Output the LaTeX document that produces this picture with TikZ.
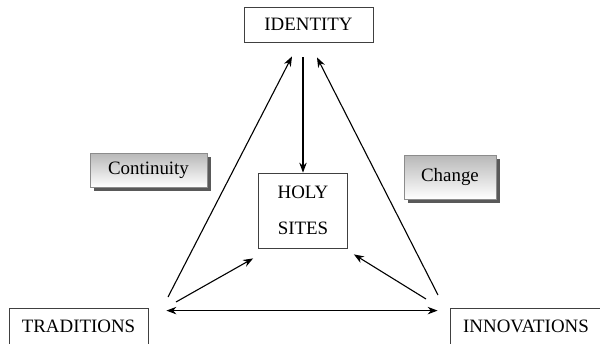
\documentclass[tikz,border=0pt]{standalone}
\usepackage{fontspec}
\setmainfont{Liberation Serif}
\usepackage{tikz}
\usetikzlibrary{arrows.meta,shadows,calc}
\tikzset{
  plainbox/.style = {draw=black!75, line width=0.8pt, inner sep=0pt,
    align=center, font=\fontsize{18.9}{36}\selectfont},
  shadebox/.style = {plainbox, draw=black!45, top color=black!28,
    bottom color=white,
    drop shadow={shadow xshift=3.5pt, shadow yshift=-4pt, fill=black!65,
      opacity=1}},% boite ombree
  link/.style = {line width=1.1pt}
}

\begin{document}
\begin{tikzpicture}[x=1pt,y=-1pt,>={Stealth[length=10pt,width=7.5pt]}]
    \useasboundingbox (0,0) rectangle (600,343);
    % boites
    \node [plainbox, minimum width=129pt, minimum height=35pt] (ident) at (308.5,24.5) {IDENTITY};
    \node [plainbox, minimum width=89pt, minimum height=75pt] (holy) at (303,210.5) {HOLY\\SITES};
    \node [plainbox, minimum width=139pt, minimum height=37pt] (trad) at (78.5,326.5) {TRADITIONS};
    \node [plainbox, minimum width=152pt, minimum height=37pt] (innov) at (526,326.5) {INNOVATIONS};
    \node [shadebox, minimum width=117pt, minimum height=34pt] (cont) at (148.5,170) {Continuity};
    \node [shadebox, minimum width=92pt, minimum height=44pt] (change) at (450,177) {Change};
    % bouts libres des fleches
    \coordinate (tradA) at (168,297);
    \coordinate (tradB) at (176,302);
    \coordinate (innA) at (438,295);
    \coordinate (innB) at (426,299);
    \coordinate (identC) at (303,57);
    % fleches
    \draw [link,->] (tradA) -- ($(ident.south)+(-16.5,14)$);
    \draw [link,->] (innA) -- ($(ident.south)+(8.5,15)$);
    \draw [link,->] (identC) -- (holy.north);
    \draw [link,->] (tradB) -- ($(holy.south west)+(-5,10)$);
    \draw [link,->] (innB) -- ($(holy.south east)+(6,6)$);
    \draw [link,<->] ($(trad.north east)+(18,3)$) -- ($(innov.north west)+(-12,3)$);
\end{tikzpicture}
\end{document}
